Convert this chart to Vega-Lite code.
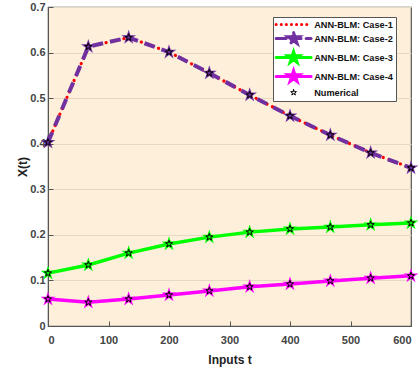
{
  "$schema": "https://vega.github.io/schema/vega-lite/v6.json",
  "width": 363,
  "height": 319,
  "autosize": {"type": "none"},
  "padding": {"left": 48, "top": 7, "right": 9, "bottom": 49},
  "background": "white",
  "config": {
    "view": {"fill": "#fdefd9", "stroke": "#555555", "strokeWidth": 1.2},
    "font": "Liberation Sans",
    "axis": {
      "labelFont": "Liberation Sans", "labelFontWeight": "bold", "labelFontSize": 11, "labelColor": "#444444",
      "titleFont": "Liberation Sans", "titleFontWeight": "bold", "titleFontSize": 12, "titleColor": "#222222",
      "domainColor": "#555555", "tickColor": "#555555", "tickSize": -5, "gridColor": "#e6d9c3", "gridWidth": 1
    }
  },
  "data": {"values": [
    {"t": 0, "series": "ANN-BLM: Case-1", "x": 0.403},
    {"t": 66.67, "series": "ANN-BLM: Case-1", "x": 0.613},
    {"t": 133.33, "series": "ANN-BLM: Case-1", "x": 0.633},
    {"t": 200, "series": "ANN-BLM: Case-1", "x": 0.601},
    {"t": 266.67, "series": "ANN-BLM: Case-1", "x": 0.555},
    {"t": 333.33, "series": "ANN-BLM: Case-1", "x": 0.507},
    {"t": 400, "series": "ANN-BLM: Case-1", "x": 0.461},
    {"t": 466.67, "series": "ANN-BLM: Case-1", "x": 0.419},
    {"t": 533.33, "series": "ANN-BLM: Case-1", "x": 0.38},
    {"t": 600, "series": "ANN-BLM: Case-1", "x": 0.347},
    {"t": 0, "series": "ANN-BLM: Case-2", "x": 0.403},
    {"t": 66.67, "series": "ANN-BLM: Case-2", "x": 0.613},
    {"t": 133.33, "series": "ANN-BLM: Case-2", "x": 0.633},
    {"t": 200, "series": "ANN-BLM: Case-2", "x": 0.601},
    {"t": 266.67, "series": "ANN-BLM: Case-2", "x": 0.555},
    {"t": 333.33, "series": "ANN-BLM: Case-2", "x": 0.507},
    {"t": 400, "series": "ANN-BLM: Case-2", "x": 0.461},
    {"t": 466.67, "series": "ANN-BLM: Case-2", "x": 0.419},
    {"t": 533.33, "series": "ANN-BLM: Case-2", "x": 0.38},
    {"t": 600, "series": "ANN-BLM: Case-2", "x": 0.347},
    {"t": 0, "series": "ANN-BLM: Case-3", "x": 0.116},
    {"t": 66.67, "series": "ANN-BLM: Case-3", "x": 0.134},
    {"t": 133.33, "series": "ANN-BLM: Case-3", "x": 0.16},
    {"t": 200, "series": "ANN-BLM: Case-3", "x": 0.18},
    {"t": 266.67, "series": "ANN-BLM: Case-3", "x": 0.195},
    {"t": 333.33, "series": "ANN-BLM: Case-3", "x": 0.206},
    {"t": 400, "series": "ANN-BLM: Case-3", "x": 0.213},
    {"t": 466.67, "series": "ANN-BLM: Case-3", "x": 0.217},
    {"t": 533.33, "series": "ANN-BLM: Case-3", "x": 0.222},
    {"t": 600, "series": "ANN-BLM: Case-3", "x": 0.226},
    {"t": 0, "series": "ANN-BLM: Case-4", "x": 0.059},
    {"t": 66.67, "series": "ANN-BLM: Case-4", "x": 0.052},
    {"t": 133.33, "series": "ANN-BLM: Case-4", "x": 0.059},
    {"t": 200, "series": "ANN-BLM: Case-4", "x": 0.068},
    {"t": 266.67, "series": "ANN-BLM: Case-4", "x": 0.077},
    {"t": 333.33, "series": "ANN-BLM: Case-4", "x": 0.086},
    {"t": 400, "series": "ANN-BLM: Case-4", "x": 0.092},
    {"t": 466.67, "series": "ANN-BLM: Case-4", "x": 0.099},
    {"t": 533.33, "series": "ANN-BLM: Case-4", "x": 0.105},
    {"t": 600, "series": "ANN-BLM: Case-4", "x": 0.11},
    {"t": 0, "series": "Numerical", "x": 0.403},
    {"t": 66.67, "series": "Numerical", "x": 0.613},
    {"t": 133.33, "series": "Numerical", "x": 0.633},
    {"t": 200, "series": "Numerical", "x": 0.601},
    {"t": 266.67, "series": "Numerical", "x": 0.555},
    {"t": 333.33, "series": "Numerical", "x": 0.507},
    {"t": 400, "series": "Numerical", "x": 0.461},
    {"t": 466.67, "series": "Numerical", "x": 0.419},
    {"t": 533.33, "series": "Numerical", "x": 0.38},
    {"t": 600, "series": "Numerical", "x": 0.347},
    {"t": 0, "series": "Numerical", "x": 0.116},
    {"t": 66.67, "series": "Numerical", "x": 0.134},
    {"t": 133.33, "series": "Numerical", "x": 0.16},
    {"t": 200, "series": "Numerical", "x": 0.18},
    {"t": 266.67, "series": "Numerical", "x": 0.195},
    {"t": 333.33, "series": "Numerical", "x": 0.206},
    {"t": 400, "series": "Numerical", "x": 0.213},
    {"t": 466.67, "series": "Numerical", "x": 0.217},
    {"t": 533.33, "series": "Numerical", "x": 0.222},
    {"t": 600, "series": "Numerical", "x": 0.226},
    {"t": 0, "series": "Numerical", "x": 0.059},
    {"t": 66.67, "series": "Numerical", "x": 0.052},
    {"t": 133.33, "series": "Numerical", "x": 0.059},
    {"t": 200, "series": "Numerical", "x": 0.068},
    {"t": 266.67, "series": "Numerical", "x": 0.077},
    {"t": 333.33, "series": "Numerical", "x": 0.086},
    {"t": 400, "series": "Numerical", "x": 0.092},
    {"t": 466.67, "series": "Numerical", "x": 0.099},
    {"t": 533.33, "series": "Numerical", "x": 0.105},
    {"t": 600, "series": "Numerical", "x": 0.11}
  ]},
  "encoding": {
    "x": {"field": "t", "type": "quantitative", "title": "Inputs t",
      "scale": {"domain": [0, 600], "nice": false},
      "axis": {"values": [0, 100, 200, 300, 400, 500, 600], "grid": false, "labelPadding": 13, "titlePadding": 9}},
    "y": {"field": "x", "type": "quantitative", "title": "X(t)",
      "scale": {"domain": [0, 0.7], "nice": false},
      "axis": {"values": [0, 0.1, 0.2, 0.3, 0.4, 0.5, 0.6, 0.7], "format": "~g", "grid": true, "labelPadding": 8, "titlePadding": 0}},
    "color": {"field": "series", "type": "nominal",
      "scale": {"domain": ["ANN-BLM: Case-1", "ANN-BLM: Case-2", "ANN-BLM: Case-3", "ANN-BLM: Case-4", "Numerical"],
                "range": ["#ff0000", "#7030a0", "#00ff00", "#ff00ff", "#000000"]},
      "legend": {
        "title": null, "orient": "none", "legendX": 225, "legendY": 10,
        "fillColor": "white", "strokeColor": "#555555", "padding": 3,
        "labelFont": "Liberation Sans", "labelFontWeight": "bold", "labelFontSize": 9.2, "labelColor": "#111111",
        "symbolSize": 100, "symbolOffset": 13, "labelOffset": 16, "rowPadding": -5,
        "encode": {"symbols": {"update": {
          "shape": {"signal": "datum.value === 'Numerical' ? 'M0,-0.6L0.135,-0.185L0.571,-0.185L0.218,0.071L0.353,0.485L0,0.229L-0.353,0.485L-0.218,0.071L-0.571,-0.185L-0.135,-0.185Z' : datum.value === 'ANN-BLM: Case-1' ? 'M-3.5,0L3.5,0' : 'M-3.5,0L3.5,0M0,-1.2L0.27,-0.371L1.141,-0.371L0.436,0.142L0.705,0.971L0,0.458L-0.705,0.971L-0.436,0.142L-1.141,-0.371L-0.27,-0.371Z'"},
          "fill": {"signal": "datum.value === 'ANN-BLM: Case-2' ? '#7030a0' : datum.value === 'ANN-BLM: Case-3' ? '#00ff00' : datum.value === 'ANN-BLM: Case-4' ? '#ff00ff' : '#ffffff'"},
          "fillOpacity": {"signal": "datum.value === 'Numerical' || datum.value === 'ANN-BLM: Case-1' ? 0 : 1"},
          "stroke": {"signal": "datum.value === 'ANN-BLM: Case-1' ? '#ff0000' : datum.value === 'ANN-BLM: Case-2' ? '#7030a0' : datum.value === 'ANN-BLM: Case-3' ? '#00ff00' : datum.value === 'ANN-BLM: Case-4' ? '#ff00ff' : '#000000'"},
          "strokeWidth": {"signal": "datum.value === 'Numerical' ? 1 : 3"},
          "strokeDash": {"signal": "datum.value === 'ANN-BLM: Case-1' ? [0.1, 5] : datum.value === 'ANN-BLM: Case-2' ? [10, 5] : []"},
          "strokeCap": {"value": "round"},
          "opacity": {"value": 1}
        }}}
      }}
  },
  "layer": [
    {"transform": [{"filter": "datum.series === 'ANN-BLM: Case-1'"}],
     "mark": {"type": "line", "strokeWidth": 3.2, "strokeDash": [0.1, 6], "strokeCap": "round"}},
    {"transform": [{"filter": "datum.series === 'ANN-BLM: Case-2'"}],
     "mark": {"type": "line", "strokeWidth": 4, "strokeDash": [11, 7]}},
    {"transform": [{"filter": "datum.series === 'ANN-BLM: Case-3' || datum.series === 'ANN-BLM: Case-4'"}],
     "mark": {"type": "line", "strokeWidth": 3.5}},
    {"transform": [{"filter": "datum.series === 'ANN-BLM: Case-2' || datum.series === 'ANN-BLM: Case-3' || datum.series === 'ANN-BLM: Case-4'"}],
     "mark": {"type": "point", "filled": true, "opacity": 1, "size": 240, "strokeWidth": 1,
              "shape": "M0,-1L0.225,-0.309L0.951,-0.309L0.363,0.118L0.588,0.809L0,0.382L-0.588,0.809L-0.363,0.118L-0.951,-0.309L-0.225,-0.309Z"}},
    {"transform": [{"filter": "datum.series === 'Numerical'"}],
     "mark": {"type": "point", "filled": false, "opacity": 1, "size": 56, "strokeWidth": 1,
              "shape": "M0,-1L0.225,-0.309L0.951,-0.309L0.363,0.118L0.588,0.809L0,0.382L-0.588,0.809L-0.363,0.118L-0.951,-0.309L-0.225,-0.309Z"}}
  ]
}
